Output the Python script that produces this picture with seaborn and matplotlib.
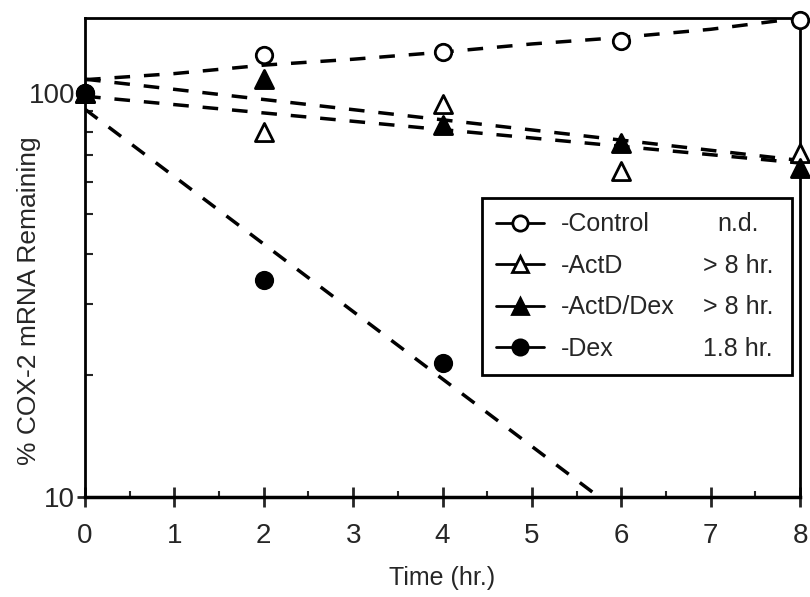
import numpy as np
import matplotlib
matplotlib.use('Agg')
import matplotlib.pyplot as plt
from matplotlib.lines import Line2D
from matplotlib.ticker import MultipleLocator, LogLocator, NullFormatter
import seaborn as sns

# measured points (% COX-2 mRNA remaining)
time_pts = [0, 2, 4, 6, 8]
control = [100, 124, 126, 134, 151]
actd = [100, 80, 94, 64, 71]
actd_dex = [100, 108, 83, 75, 65]
dex_t = [0, 2, 4]
dex = [100, 34.4, 21.4]

# drawn curves / decay fits
control_fit_t = [0, 1, 2, 3, 4, 5, 6, 7, 8]
control_fit = [107.7, 111.5, 117, 121, 126, 132, 137, 143.5, 153]
fit_t = [0, 8]
actd_fit = [98, 67]
actd_dex_fit = [108, 68]
dex_fit_t = [0, 5.75]
dex_fit = [91, 10]

series_names = ['-Control', '-ActD', '-ActD/Dex', '-Dex']
half_lives = ['n.d.', '> 8 hr.', '> 8 hr.', '1.8 hr.']

sns.set_style('ticks')
plt.rcParams['font.family'] = ['Liberation Sans', 'DejaVu Sans']

fig = plt.figure(figsize=(8.1, 5.97), dpi=100)
ax = fig.add_axes([0.105, 0.1675, 0.8827, 0.8023])

# dashed fit lines
line_kw = dict(color='black', lw=2.5, linestyle=(0, (4.5, 4)), ax=ax, legend=False)
sns.lineplot(x=control_fit_t, y=control_fit, **line_kw)
sns.lineplot(x=fit_t, y=actd_fit, **line_kw)
sns.lineplot(x=fit_t, y=actd_dex_fit, **line_kw)
sns.lineplot(x=dex_fit_t, y=dex_fit, **line_kw)

# data points
pt_kw = dict(edgecolor='black', linewidth=2, clip_on=False, zorder=6, ax=ax, legend=False)
sns.scatterplot(x=time_pts, y=control, marker='o', s=140, facecolor='white', **pt_kw)
sns.scatterplot(x=time_pts, y=actd, marker='^', s=170, facecolor='white', **pt_kw)
sns.scatterplot(x=time_pts, y=actd_dex, marker='^', s=170, facecolor='black', **pt_kw)
sns.scatterplot(x=dex_t, y=dex, marker='o', s=140, facecolor='black', **pt_kw)

ax.set_yscale('log')
ax.set_xlim(0, 8)
ax.set_ylim(10, 153)
ax.set_xticks(range(9))
ax.xaxis.set_minor_locator(MultipleLocator(0.5))
ax.set_yticks([10, 100])
ax.set_yticklabels(['10', '100'])
ax.yaxis.set_minor_locator(LogLocator(base=10, subs=np.arange(2, 10)))
ax.yaxis.set_minor_formatter(NullFormatter())

ax.tick_params(axis='x', which='major', direction='inout', length=14, width=2, labelsize=20, pad=12)
ax.tick_params(axis='x', which='minor', direction='in', length=4, width=1.5)
ax.tick_params(axis='y', which='major', direction='inout', length=12, width=2, labelsize=20, pad=1)
ax.tick_params(axis='y', which='minor', direction='in', length=6, width=1.5)
for s in ax.spines.values():
    s.set_linewidth(2)
    s.set_color('black')
ax.spines['bottom'].set_linewidth(2.5)

ax.set_xlabel('Time (hr.)', fontsize=18, labelpad=12)
ax.set_ylabel('% COX-2 mRNA Remaining', fontsize=19)
ax.yaxis.set_label_coords(-0.062, 0.41)

handles = [
    Line2D([], [], color='black', lw=2, marker='o', ms=11, mfc='white', mec='black', mew=2),
    Line2D([], [], color='black', lw=2, marker='^', ms=12, mfc='white', mec='black', mew=2),
    Line2D([], [], color='black', lw=2, marker='^', ms=12, mfc='black', mec='black', mew=2),
    Line2D([], [], color='black', lw=2, marker='o', ms=11, mfc='black', mec='black', mew=2),
]
leg = ax.legend(handles, series_names, loc='upper left', bbox_to_anchor=(0.555, 0.624, 0.434, 0),
                mode='expand', fontsize=18, fancybox=False, edgecolor='black', framealpha=1,
                handlelength=1.9, handletextpad=0.7, labelspacing=0.7, borderpad=0.57,
                borderaxespad=0)
leg.get_frame().set_linewidth(2)

fig.canvas.draw()
for txt, hl in zip(leg.get_texts(), half_lives):
    bb = txt.get_window_extent()
    yc = ax.transAxes.inverted().transform((0, (bb.y0 + bb.y1) / 2))[1]
    ax.text(0.913, yc, hl, ha='center', va='center', fontsize=18, transform=ax.transAxes, zorder=10)

fig.savefig('out.png', dpi=100)
